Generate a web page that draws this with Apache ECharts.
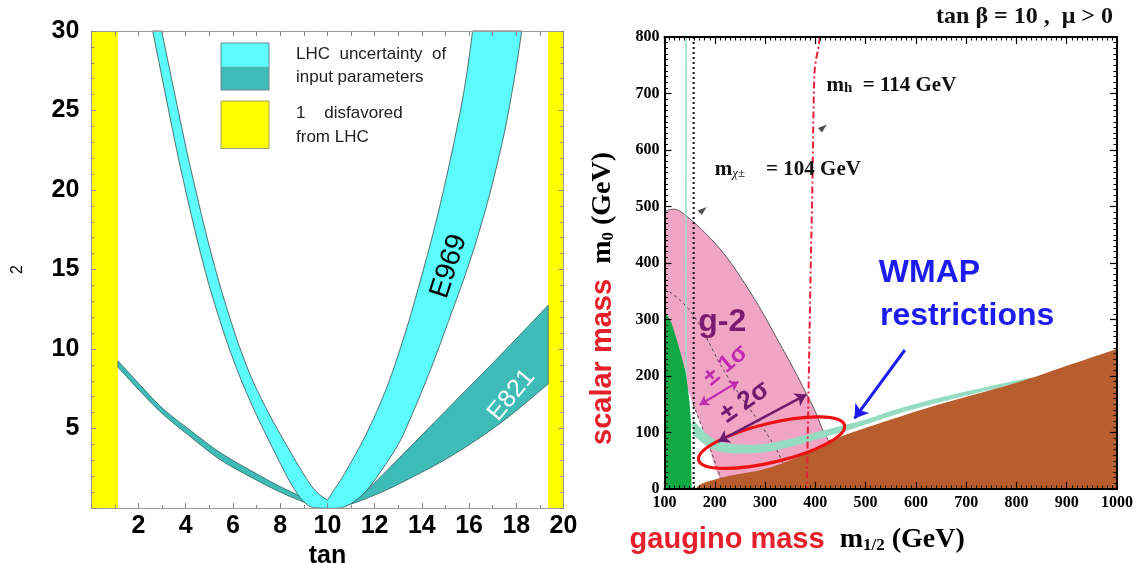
<!DOCTYPE html>
<html><head><meta charset="utf-8">
<script src="https://cdn.jsdelivr.net/npm/echarts@6/dist/echarts.min.js"></script>
<style>html,body{margin:0;padding:0;background:#fff}#main{width:1136px;height:563px}</style>
</head><body><div id="main"></div>
<script>
// ================= LEFT PANEL (tan beta vs chi^2) =================
const leftXTicks = [0, 20, 2];          // min, max, interval
const leftYTicks = [0, 30, 5];
const yellowLeft  = [[0,0],[1.13,0],[1.13,30],[0,30]];
const yellowRight = [[19.35,0],[20,0],[20,30],[19.35,30]];
// E969 band boundaries
const e969Outer = [[2.60,30],[2.87,28],[3.14,26],[3.41,24],[3.69,22],[3.99,20],[4.30,18],[4.63,16],[4.99,14],[5.40,12],[5.85,10],[6.36,8],[6.95,6],[7.60,4],[8.28,2],[8.68,1],[9.0,0.4],[9.3,0.08],[9.65,0],[10.5,0],[10.9,0.2],[11.3,0.6],[11.6,1],[12.12,2],[13.0,4],[13.62,6],[14.18,8],[14.7,10],[15.19,12],[15.68,14],[16.14,16],[16.55,18],[16.92,20],[17.25,22],[17.55,24],[17.80,26],[18.03,28],[18.23,30]];
const e969TopRight = [[18.23,30],[16.15,30]];
const e969InnerRight = [[16.15,30],[15.97,28],[15.76,26],[15.5,24],[15.22,22],[14.92,20],[14.6,18],[14.25,16],[13.88,14],[13.5,12],[13.08,10],[12.62,8],[12.07,6],[11.42,4],[10.66,2],[10.22,1],[10.0,0.5]];
const e969InnerLeft = [[10.0,0.5],[9.55,1],[9.05,2],[8.25,4],[7.50,6],[6.84,8],[6.31,10],[5.86,12],[5.45,14],[5.08,16],[4.74,18],[4.42,20],[4.11,22],[3.82,24],[3.54,26],[3.26,28],[2.98,30]];
const e969TopLeft = [[2.98,30],[2.60,30]];
// E821 band boundaries
const e821Upper = [[1.13,9.25],[2,7.85],[3,6.3],[4.18,4.9],[5.5,3.45],[7,2.15],[8,1.35],[8.7,0.85],[9.3,0.42],[9.8,0.15],[10.3,0.08],[10.8,0.3],[11.3,0.75],[11.8,1.3],[13.08,3.2],[15.2,6.4],[17.32,9.6],[19.35,12.75]];
const e821RightEdge = [[19.35,12.75],[19.35,7.8]];
const e821Lower = [[19.35,7.8],[17.32,5.33],[15.2,3.23],[13.08,1.55],[11.95,0.78],[11.0,0.25],[10.3,0.0],[9.8,0.03],[9.3,0.2],[8.7,0.55],[8,1.0],[7,1.75],[5.5,3.0],[4.18,4.5],[3,5.95],[2,7.45],[1.13,8.85]];
const e821LeftEdge = [[1.13,8.85],[1.13,9.25]];
const e969LabelPos = [15.15, 15.2];
const e821LabelPos = [17.8, 7.1];
const legendTexts = ['LHC  uncertainty  of', 'input parameters', '1    disfavored', 'from LHC'];

// ================= RIGHT PANEL (m1/2 vs m0) =================
const rightXTicks = [100, 1000, 100];
const rightYTicks = [0, 800, 100];
const greenEdge = [[100,314],[106,306],[114,293],[124,265],[134,234],[142,205],[147,175],[151,140],[152.5,110],[153,57],[154,0]];
const greenBase = [[154,0],[100,0]];
const greenLeft = [[100,0],[100,314]];
const pinkUpper = [[100,490],[114,495],[130,492],[157,473],[190,445],[223,411],[255,370],[290,320],[320,272],[356,214],[382,169],[400,137],[415,104],[435,72],[446,45]];
const pinkRight = [[446,45],[445,8]];
const pinkBottom = [[445,8],[216,5]];
const pinkLeft = [[216,5],[200,40],[185,85],[170,120],[157,150],[130,215],[100,255]];
const pinkAxis = [[100,255],[100,490]];
const sigma1Line = [[100,355],[130,335],[157,308],[184,267],[210,222],[243,175],[290,116],[323,69],[335,45]];
const pinkDashedEdge = [[157,150],[185,85],[216,10]];
const wmapUpper = [[157,122],[190,93],[223,81],[290,79],[356,90],[435,108],[500,123],[568,143],[667,166],[800,192],[830,197]];
const wmapRightEnd = [[830,197],[830,194]];
const wmapLower = [[830,194],[800,187],[667,158],[568,134],[500,114],[435,96],[356,76],[290,64],[223,64],[190,73],[157,95]];
const wmapLeftEnd = [[157,95],[157,122]];
const wmapVertical = [[143,800],[143,140],[150,118],[157,110]];
const brownTop = [[162,0],[176,10],[223,22],[306,37],[382,63],[449,92],[568,128],[667,155],[800,188],[900,218],[1000,248]];
const brownRight = [[1000,248],[1000,0]];
const brownBase = [[1000,0],[162,0]];
const charginoLine = [[158,0],[158,800]];
const higgsLine = [[409,800],[406,780],[401,758],[398,730],[396,650],[394,530],[391,400],[388,250],[385,100],[383,0]];
const sigma1Arrow = [[170,149],[247,190]];
const sigma2Arrow = [[207,84],[382,167]];
const wmapArrow = [[578,246],[478,125]];
const ellipseCenter = [313, 82];
const labelPointers = [[177,494],[416,640]];
const g2Pos = [215, 296];
const s1Pos = [222, 219];
const s2Pos = [260, 154];
const wmapPos = [627, 382];
const restrPos = [702, 306];
const mhPos = [422, 714];
const mchiPos = [200, 566];

// ================= helpers =================
const SANS = 'Liberation Sans', SERIF = 'Liberation Serif';
// Catmull-Rom densification of pixel points (rendering only)
function spline(px, steps) {
  if (px.length < 3) return px.slice();
  const out = [px[0]];
  for (let i = 0; i < px.length - 1; i++) {
    const p0 = px[Math.max(i - 1, 0)], p1 = px[i], p2 = px[i + 1], p3 = px[Math.min(i + 2, px.length - 1)];
    for (let s = 1; s <= steps; s++) {
      const t = s / steps, t2 = t * t, t3 = t2 * t;
      const f = k => 0.5 * (2 * p1[k] + (-p0[k] + p2[k]) * t + (2 * p0[k] - 5 * p1[k] + 4 * p2[k] - p3[k]) * t2 + (-p0[k] + 3 * p1[k] - 3 * p2[k] + p3[k]) * t3);
      out.push([f(0), f(1)]);
    }
  }
  return out;
}
function pixelPath(api, segments, smooth) {
  let out = [];
  segments.forEach(seg => {
    const px = seg.map(p => api.coord(p));
    out = out.concat(smooth ? spline(px, 10) : px);
  });
  return out;
}
function polySeries(ax, segments, style, z, smooth) {
  const pts = [].concat(...segments);
  return {
    type: 'custom', xAxisIndex: ax, yAxisIndex: ax, z: z, silent: true, data: pts,
    renderItem: function (params, api) {
      if (params.dataIndex !== 0) return null;
      return { type: 'polygon', shape: { points: pixelPath(api, segments, smooth) }, style: style };
    }
  };
}
function curveSeries(ax, pts, style, z, smooth) {
  return {
    type: 'custom', xAxisIndex: ax, yAxisIndex: ax, z: z, silent: true, data: pts,
    renderItem: function (params, api) {
      if (params.dataIndex !== 0) return null;
      return { type: 'polyline', shape: { points: pixelPath(api, [pts], smooth) }, style: Object.assign({ fill: null }, style) };
    }
  };
}
function textSeries(ax, pos, text, st, rot, z) {
  return {
    type: 'custom', xAxisIndex: ax, yAxisIndex: ax, z: z || 12, silent: true, data: [pos],
    renderItem: function (params, api) {
      const c = api.coord([api.value(0), api.value(1)]);
      return { type: 'text', x: c[0], y: c[1], rotation: (rot || 0) * Math.PI / 180,
        style: Object.assign({ text: text, align: 'center', verticalAlign: 'middle' }, st) };
    }
  };
}
function arrowSeries(data, color, width, syms, size) {
  return { type: 'lines', coordinateSystem: 'cartesian2d', xAxisIndex: 2, yAxisIndex: 2, z: 9, silent: true,
    symbol: syms, symbolSize: size, lineStyle: { color: color, width: width, opacity: 1, curveness: 0 },
    data: [{ coords: data }] };
}
function leftAxis(pos, isX, labels, extra) {
  const t = isX ? leftXTicks : leftYTicks;
  return Object.assign({
    type: 'value', gridIndex: 0, position: pos, min: t[0], max: t[1], interval: isX && !labels ? 1 : t[2], z: 10,
    axisLine: { onZero: false, lineStyle: { color: '#9a9a9a', width: 1 } },
    axisTick: { inside: true, length: 5, lineStyle: { color: '#888' } },
    minorTick: { show: !!(labels || !isX), splitNumber: isX ? 2 : 5, length: 3, lineStyle: { color: '#888' } },
    splitLine: { show: false }, minorSplitLine: { show: false },
    axisLabel: { show: labels, fontSize: 25, fontWeight: 'bold', fontFamily: SANS, color: '#000', margin: isX ? 6 : 12,
      formatter: v => (v === 0 ? '' : String(v)) }
  }, extra || {});
}
function rightAxis(pos, isX, labels) {
  const t = isX ? rightXTicks : rightYTicks;
  return {
    type: 'value', gridIndex: 1, position: pos, min: t[0], max: t[1], interval: t[2], z: 10,
    axisLine: { onZero: false, lineStyle: { color: '#000', width: 2 } },
    axisTick: { inside: true, length: 7, lineStyle: { color: '#000', width: 1.2 } },
    minorTick: { show: true, splitNumber: 10, length: 3.5, lineStyle: { color: '#000', width: 1 } },
    splitLine: { show: false }, minorSplitLine: { show: false },
    axisLabel: { show: labels, fontSize: 16, fontFamily: SERIF, fontWeight: 'bold', color: '#000', margin: isX ? 6 : 5,
      formatter: v => String(v) }
  };
}
const legendFont = '17px Liberation Sans';
const nameRich = {
  r: { fontFamily: SANS, fontWeight: 'bold', fontSize: 29, fill: '#e5202a' },
  k: { fontFamily: SERIF, fontWeight: 'bold', fontSize: 28, fill: '#000' },
  s: { fontFamily: SERIF, fontWeight: 'bold', fontSize: 17, fill: '#000', verticalAlign: 'bottom' }
};

const chart = echarts.init(document.getElementById('main'));
const option = {
  animation: false,
  backgroundColor: '#fff',
  title: { text: 'tan β = 10 ,  μ > 0', right: 23, top: 5, padding: 0,
    textStyle: { fontFamily: SERIF, fontWeight: 'bold', fontSize: 24, color: '#111' } },
  grid: [
    { left: 91.3, top: 31, width: 472.2, height: 477, outerBoundsMode: 'none' },
    { left: 664.5, top: 37, width: 452.5, height: 452, outerBoundsMode: 'none' }
  ],
  xAxis: [
    leftAxis('bottom', true, true, { name: 'tan', nameLocation: 'middle', nameGap: 28,
      nameTextStyle: { fontSize: 25, fontWeight: 'bold', fontFamily: SANS, color: '#000' } }),
    leftAxis('top', true, false),
    rightAxis('bottom', true, true),
    rightAxis('top', true, false)
  ],
  yAxis: [
    leftAxis('left', false, true, { name: '2', nameLocation: 'middle', nameGap: 66, nameRotate: 90,
      nameTextStyle: { fontSize: 16, fontFamily: SANS, color: '#000' } }),
    leftAxis('right', false, false),
    rightAxis('left', false, true),
    rightAxis('right', false, false)
  ],
  graphic: [
    { type: 'rect', shape: { x: 221, y: 43, width: 48, height: 23.5 }, style: { fill: '#5cfcfc' } },
    { type: 'rect', shape: { x: 221, y: 66.5, width: 48, height: 23.5 }, style: { fill: '#40bcb8' } },
    { type: 'rect', shape: { x: 221, y: 43, width: 48, height: 47 }, style: { fill: 'none', stroke: '#6a8a8a', lineWidth: 1 } },
    { type: 'rect', shape: { x: 221, y: 101, width: 48, height: 47.5 }, style: { fill: '#ffff00', stroke: '#a0a060', lineWidth: 1 } },
    { type: 'text', x: 296, y: 54, style: { text: legendTexts[0], font: legendFont, fill: '#222', verticalAlign: 'middle' } },
    { type: 'text', x: 296, y: 77, style: { text: legendTexts[1], font: legendFont, fill: '#222', verticalAlign: 'middle' } },
    { type: 'text', x: 296, y: 113, style: { text: legendTexts[2], font: legendFont, fill: '#222', verticalAlign: 'middle' } },
    { type: 'text', x: 296, y: 137, style: { text: legendTexts[3], font: legendFont, fill: '#222', verticalAlign: 'middle' } },
    { type: 'text', x: 603, y: 445, rotation: Math.PI / 2,
      style: { text: '{r|scalar mass }{k| m}{s|0}{k| (GeV)}', align: 'left', verticalAlign: 'middle', rich: nameRich } },
    { type: 'text', x: 629.6, y: 540,
      style: { text: '{r|gaugino mass }{k| m}{s|1/2}{k| (GeV)}', align: 'left', verticalAlign: 'middle', rich: nameRich } }
  ],
  series: [
    // ---- left panel ----
    polySeries(0, [yellowLeft], { fill: '#ffff00' }, 2, false),
    polySeries(0, [yellowRight], { fill: '#ffff00' }, 2, false),
    polySeries(0, [e821Upper, e821RightEdge, e821Lower, e821LeftEdge], { fill: '#40bcb8', stroke: '#2f5f5c', lineWidth: 0.8 }, 3, true),
    polySeries(0, [e969Outer, e969TopRight, e969InnerRight, e969InnerLeft, e969TopLeft], { fill: '#5cfcfc', stroke: '#3a4a4a', lineWidth: 0.8 }, 4, true),
    textSeries(0, e969LabelPos, 'E969', { fontFamily: SANS, fontSize: 28, fill: '#000' }, 72),
    textSeries(0, e821LabelPos, 'E821', { fontFamily: SANS, fontSize: 25, fill: '#fff' }, 50),
    // ---- right panel ----
    polySeries(2, [pinkUpper, pinkRight, pinkBottom, pinkLeft, pinkAxis], { fill: '#f1a5c5' }, 2, true),
    curveSeries(2, pinkUpper, { stroke: '#555', lineWidth: 1 }, 3, true),
    curveSeries(2, sigma1Line, { stroke: '#444', lineWidth: 1, lineDash: [3, 3] }, 3, true),
    curveSeries(2, pinkDashedEdge, { stroke: '#444', lineWidth: 1, lineDash: [3, 3] }, 3, true),
    polySeries(2, [wmapUpper, wmapRightEnd, wmapLower, wmapLeftEnd], { fill: '#96dcc3' }, 4, true),
    curveSeries(2, wmapVertical, { stroke: '#9adcc6', lineWidth: 1.5 }, 4, true),
    polySeries(2, [greenBase, greenLeft, greenEdge], { fill: '#0ea844' }, 5, true),
    polySeries(2, [brownTop, brownRight, brownBase], { fill: '#b85e2e' }, 5, true),
    curveSeries(2, charginoLine, { stroke: '#111', lineWidth: 2, lineDash: [2, 3] }, 7, false),
    curveSeries(2, higgsLine, { stroke: '#e8203c', lineWidth: 2, lineDash: [7, 3, 2, 3] }, 7, true),
    {
      type: 'custom', xAxisIndex: 2, yAxisIndex: 2, z: 8, silent: true, data: [ellipseCenter],
      renderItem: function (params, api) {
        const c = api.coord([api.value(0), api.value(1)]);
        return { type: 'ellipse', x: c[0], y: c[1], rotation: 13.4 * Math.PI / 180,
          shape: { cx: 0, cy: 0, rx: 75, ry: 19.5 }, style: { fill: 'none', stroke: '#ee1111', lineWidth: 3.2 } };
      }
    },
    arrowSeries(sigma1Arrow, '#c02cb0', 2.2, ['arrow', 'arrow'], 9),
    arrowSeries(sigma2Arrow, '#6e1a6e', 2.5, ['arrow', 'arrow'], 11),
    arrowSeries(wmapArrow, '#1c1cf0', 3, ['none', 'arrow'], 13),
    { type: 'scatter', xAxisIndex: 2, yAxisIndex: 2, z: 9, silent: true, data: labelPointers,
      symbol: 'triangle', symbolSize: [6, 9], symbolRotate: -50, itemStyle: { color: '#222' } },
    textSeries(2, g2Pos, 'g-2', { fontFamily: SANS, fontWeight: 'bold', fontSize: 32, fill: '#7a1a70' }, 0),
    textSeries(2, s1Pos, '± 1σ', { fontFamily: SANS, fontWeight: 'bold', fontSize: 24, fill: '#c02cb0' }, 40),
    textSeries(2, s2Pos, '± 2σ', { fontFamily: SANS, fontWeight: 'bold', fontSize: 26, fill: '#6e1a6e' }, 35),
    textSeries(2, wmapPos, 'WMAP', { fontFamily: SANS, fontWeight: 'bold', fontSize: 32, fill: '#1c1cf0' }, 0),
    textSeries(2, restrPos, 'restrictions', { fontFamily: SANS, fontWeight: 'bold', fontSize: 32, fill: '#1c1cf0' }, 0),
    textSeries(2, mhPos, '{m|m}{s|h}{t|  = 114 GeV}', { align: 'left',
      rich: { m: { fontFamily: SERIF, fontWeight: 'bold', fontSize: 21, fill: '#111' },
              s: { fontFamily: SERIF, fontWeight: 'bold', fontSize: 15, fill: '#111', verticalAlign: 'bottom' },
              t: { fontFamily: SERIF, fontWeight: 'bold', fontSize: 21, fill: '#111' } } }, 0),
    textSeries(2, mchiPos, '{m|m}{s|χ±}{t|    = 104 GeV}', { align: 'left',
      rich: { m: { fontFamily: SERIF, fontWeight: 'bold', fontSize: 21, fill: '#111' },
              s: { fontFamily: SERIF, fontStyle: 'italic', fontSize: 13, fill: '#111', verticalAlign: 'bottom' },
              t: { fontFamily: SERIF, fontWeight: 'bold', fontSize: 21, fill: '#111' } } }, 0)
  ]
};
chart.setOption(option);
</script>
</body></html>
